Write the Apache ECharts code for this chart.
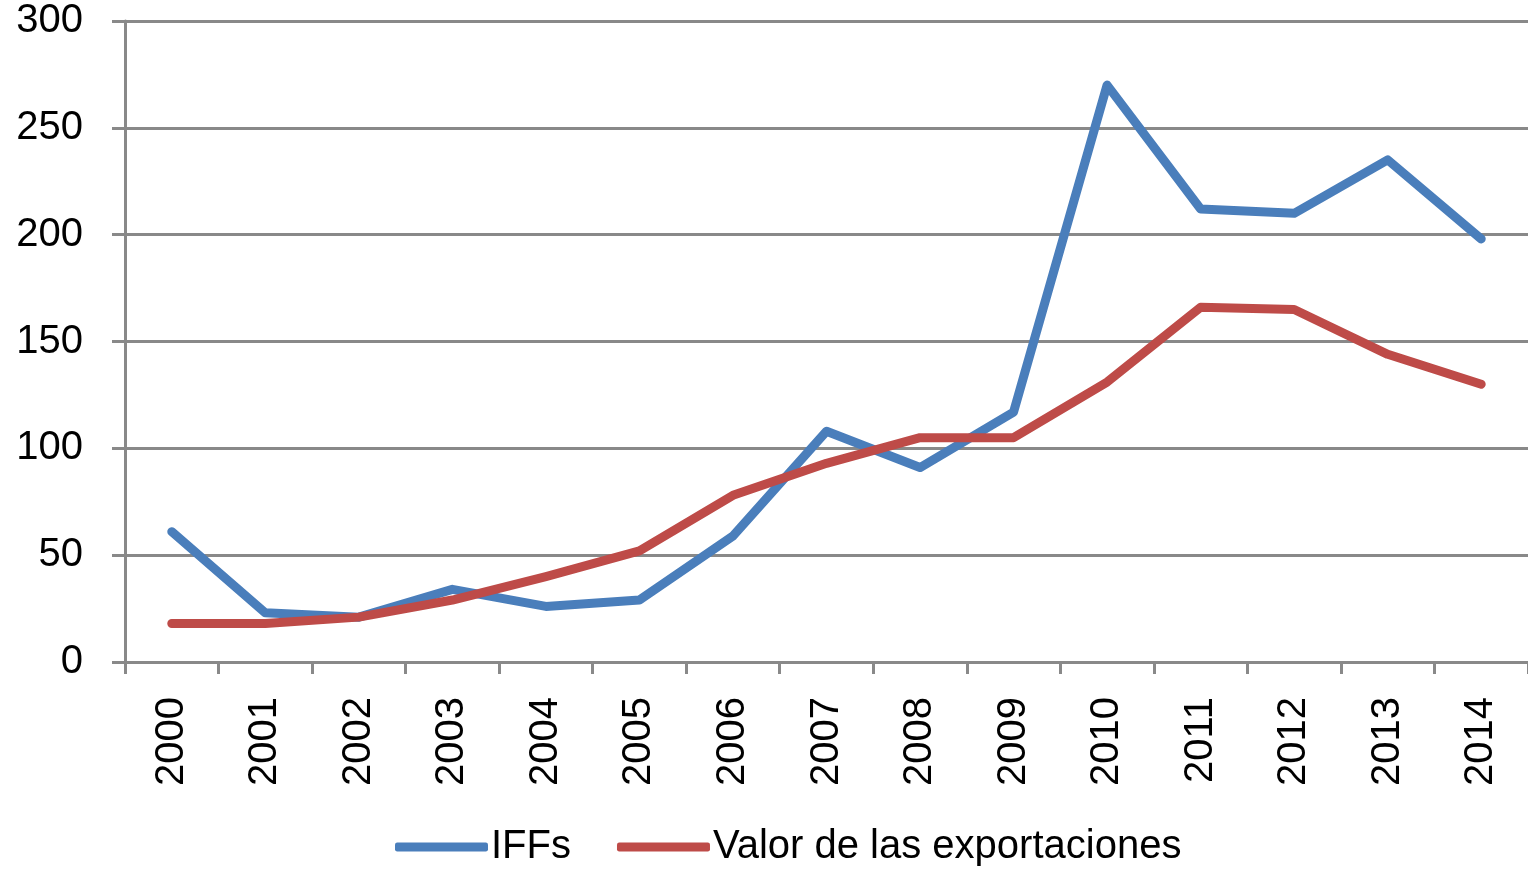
<!DOCTYPE html>
<html lang="es">
<head>
	<meta charset="UTF-8">
	<title>IFFs</title>
	<script src="https://cdn.jsdelivr.net/npm/echarts@6/dist/echarts.min.js"></script>
	<style>html,body{margin:0;padding:0;background:#fff}</style>
</head>
<body>
	<div id="chart" style="width:1528px; height:870px"></div>
	<script>
	var years = ['2000','2001','2002','2003','2004','2005','2006','2007','2008','2009','2010','2011','2012','2013','2014'];
	var iffs = [61, 23, 21, 34, 26, 29, 59, 108, 91, 117, 270, 212, 210, 235, 198];
	var exportaciones = [18, 18, 21, 29, 40, 52, 78, 93, 105, 105, 131, 166, 165, 144, 130];
	var yTicks = [0, 300, 50]; // min, max, interval

	var myChart = echarts.init(document.getElementById('chart'));
	var font = 'Liberation Sans';
	var gray = '#898989';

	option = {
		animation: false,
		textStyle: {fontFamily: font},
		grid: {left: 125, right: 0, top: 21, bottom: 208, containLabel: false},
		legend: {
			left: 390,
			bottom: -2,
			itemWidth: 93,
			itemHeight: 9,
			itemGap: 46,
			icon: 'roundRect',
			textStyle: {fontSize: 40, color: '#000', fontFamily: font, padding: [6, 0, 0, -2]},
			data: ['IFFs', 'Valor de las exportaciones']
		},
		xAxis: {
			type: 'category',
			data: years,
			boundaryGap: true,
			axisLine: {lineStyle: {color: gray, width: 3}},
			axisTick: {show: true, length: 12, lineStyle: {color: gray, width: 3}},
			axisLabel: {rotate: 90, fontSize: 40, color: '#000', margin: 35, interval: 0}
		},
		yAxis: {
			type: 'value',
			min: yTicks[0],
			max: yTicks[1],
			interval: yTicks[2],
			axisLine: {show: true, lineStyle: {color: gray, width: 3}},
			axisTick: {show: true, length: 13, lineStyle: {color: gray, width: 3}},
			splitLine: {lineStyle: {color: gray, width: 3}},
			axisLabel: {fontSize: 40, color: '#000', margin: 42}
		},
		series: [
			{
				name: 'IFFs',
				type: 'line',
				data: iffs,
				symbol: 'none',
				color: '#4a7ebb',
				lineStyle: {width: 9, color: '#4a7ebb', cap: 'round', join: 'round'}
			},
			{
				name: 'Valor de las exportaciones',
				type: 'line',
				data: exportaciones,
				symbol: 'none',
				color: '#be4b48',
				lineStyle: {width: 9, color: '#be4b48', cap: 'round', join: 'round'}
			}
		]
	};
	myChart.setOption(option);
	</script>
</body>
</html>
